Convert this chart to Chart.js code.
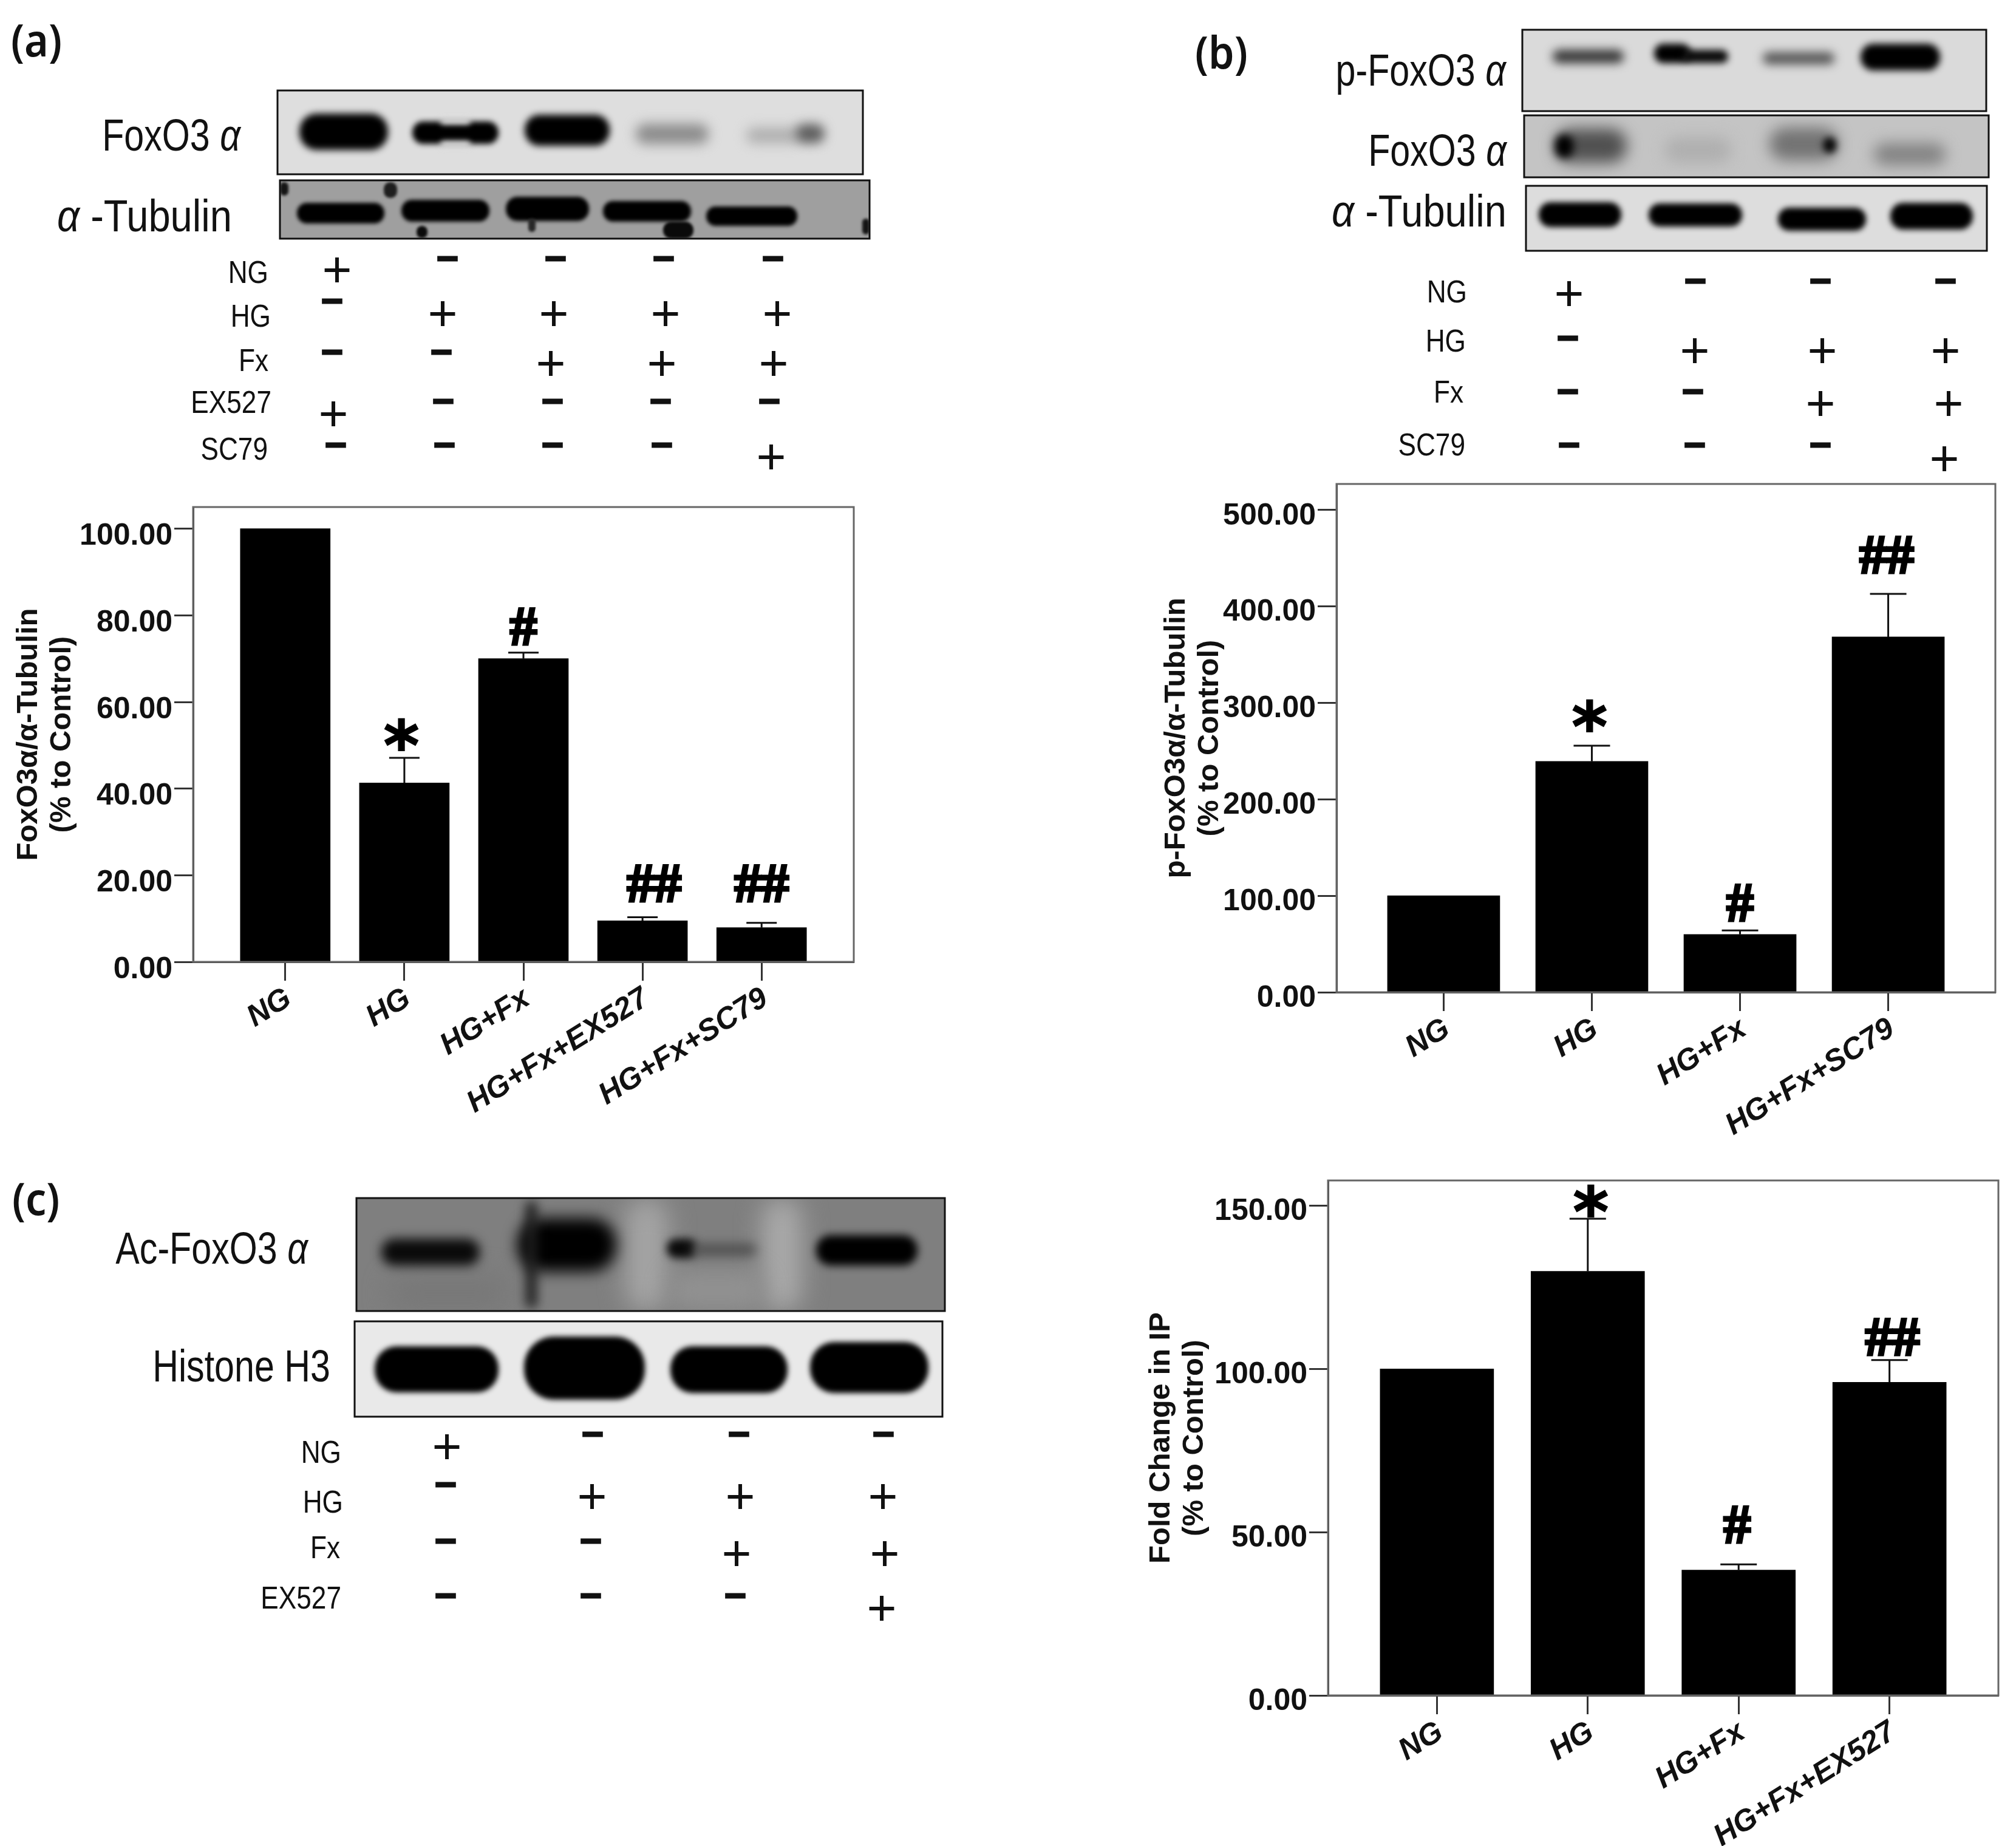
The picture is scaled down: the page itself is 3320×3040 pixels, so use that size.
<!DOCTYPE html>
<html>
<head>
<meta charset="utf-8">
<script src="https://cdn.jsdelivr.net/npm/chart.js@4"></script>
<style>
  html, body { margin: 0; background: #fff; }
  #page { position: relative; width: 3320px; height: 3040px; overflow: hidden; }
  canvas { position: absolute; }
  .t { position: absolute; white-space: nowrap; color: #111; line-height: 1; }
  .blotlabel { font: 74px "Liberation Sans", sans-serif; transform: translate(-100%, -50%) scaleX(.8); transform-origin: right center; }
  .blotwide { font: 74px "Liberation Sans", sans-serif; transform: translate(-100%, -50%) scaleX(.88); transform-origin: right center; }
  .rowlabel { font: 52px "Liberation Sans", sans-serif; transform: translate(-100%, -50%) scaleX(.85); transform-origin: right center; }
  .panel { font: 600 74px "Noto Sans", sans-serif; transform: scaleX(.92); transform-origin: left center; }
  .plus { font: 84px "Liberation Sans", sans-serif; transform: translate(-50%, -50%); }
  .minus { font: bold 62px "Liberation Sans", sans-serif; transform: translate(-50%, -50%); margin-top: -8px; -webkit-text-stroke: 3px #111; }
</style>
</head>
<body>
<div id="page">
  <canvas id="blots" width="3320" height="3040" style="left:0;top:0"></canvas>
</div>
<script>
// panel a
const aLabels = ["NG", "HG", "HG+Fx", "HG+Fx+EX527", "HG+Fx+SC79"];
const aValues = [100, 41.3, 70, 9.5, 7.9];
const aErrTop = [100, 47.1, 71.4, 10.3, 9.0];
const aMarks = ["", "*", "#", "##", "##"];
const aMarkX = [0, 0.975, 2, 3.097, 4];
const aMarkY = [0, 50.5, 76.5, 17.2, 17.2];
const aTicks = [0, 20, 40, 60, 80, 100];

// panel b
const bLabels = ["NG", "HG", "HG+Fx", "HG+Fx+SC79"];
const bValues = [100, 239.4, 60, 368.4];
const bErrTop = [100, 255.7, 64, 413];
const bMarks = ["", "*", "#", "##"];
const bMarkX = [0, 0.985, 2, 2.99];
const bMarkY = [0, 278, 88, 449];
const bTicks = [0, 100, 200, 300, 400, 500];

// panel c
const cLabels = ["NG", "HG", "HG+Fx", "HG+Fx+EX527"];
const cValues = [100, 129.9, 38.4, 95.9];
const cErrTop = [100, 146, 40.1, 102.7];
const cMarks = ["", "*", "#", "##"];
const cMarkX = [0, 1.02, 1.99, 3.02];
const cMarkY = [0, 148.7, 51, 108.5];
const cTicks = [0, 50, 100, 150];

const page = document.getElementById("page");

// error bars, significance marks and the frame round the plot
const extras = {
  id: "extras",
  afterDatasetsDraw(chart, args, opts) {
    const { ctx, scales, chartArea } = chart;
    ctx.save();
    ctx.strokeStyle = "#666";
    ctx.lineWidth = 3;
    ctx.strokeRect(chartArea.left, chartArea.top, chartArea.right - chartArea.left, chartArea.bottom - chartArea.top);
    ctx.strokeStyle = "#111";
    opts.errTop.forEach((top, i) => {
      if (top <= opts.values[i]) return;
      const x = scales.x.getPixelForValue(i);
      const y0 = scales.y.getPixelForValue(opts.values[i]);
      const y1 = scales.y.getPixelForValue(top);
      ctx.beginPath();
      ctx.moveTo(x, y0);
      ctx.lineTo(x, y1);
      ctx.moveTo(x - opts.cap / 2, y1);
      ctx.lineTo(x + opts.cap / 2, y1);
      ctx.stroke();
    });
    ctx.fillStyle = "#000";
    ctx.strokeStyle = "#000";
    ctx.textAlign = "center";
    ctx.textBaseline = "middle";
    opts.marks.forEach((m, i) => {
      if (!m) return;
      const x = scales.x.getPixelForValue(opts.markX[i]);
      const y = scales.y.getPixelForValue(opts.markY[i]);
      if (m === "*") {
        ctx.font = 'bold 112px "DejaVu Sans"';
        ctx.lineWidth = 2;
        ctx.fillText(m, x, y + 14);
        ctx.strokeText(m, x, y + 14);
      } else {
        ctx.font = 'bold 90px "Liberation Serif"';
        ctx.lineWidth = 4;
        ctx.fillText(m, x, y);
        ctx.strokeText(m, x, y);
      }
    });
    ctx.restore();
  },
};

function makeChart(c) {
  const cv = document.createElement("canvas");
  cv.width = c.w;
  cv.height = c.h;
  cv.style.left = c.left + "px";
  cv.style.top = c.top + "px";
  page.appendChild(cv);
  return new Chart(cv, {
    type: "bar",
    data: {
      datasets: [{
        data: c.values.map((v, i) => ({ x: i, y: v })),
        backgroundColor: "#000",
        barThickness: c.barW,
      }],
    },
    plugins: [extras],
    options: {
      responsive: false,
      animation: false,
      devicePixelRatio: 1,
      layout: { padding: { top: c.boxTop - c.top, right: c.left + c.w - c.boxRight, left: 0, bottom: 0 } },
      plugins: {
        legend: { display: false },
        tooltip: { enabled: false },
        extras: { values: c.values, errTop: c.errTop, marks: c.marks, markX: c.markX, markY: c.markY, cap: c.cap },
      },
      scales: {
        x: {
          type: "linear",
          offset: false,
          min: -c.margin,
          max: c.labels.length - 1 + c.margin,
          afterBuildTicks: (s) => { s.ticks = c.labels.map((_, i) => ({ value: i })); },
          afterFit: (s) => { s.height = c.top + c.h - c.boxBottom; },
          grid: { offset: false, drawOnChartArea: false, tickLength: 31, tickColor: "#333", tickWidth: 3 },
          border: { display: true, color: "#333", width: 3 },
          ticks: {
            autoSkip: false,
            minRotation: 32,
            maxRotation: 32,
            padding: 0,
            labelOffset: 6,
            color: "#111",
            font: { family: "Liberation Sans", size: 50, weight: "bold", style: "italic" },
            callback: (v) => c.labels[v],
          },
        },
        y: {
          min: 0,
          max: c.yMax,
          afterBuildTicks: (s) => { s.ticks = c.ticks.map((v) => ({ value: v })); },
          afterFit: (s) => { s.width = c.boxLeft - c.left; },
          grid: { drawOnChartArea: false, tickLength: 31, tickColor: "#333", tickWidth: 3 },
          border: { display: true, color: "#333", width: 3 },
          title: {
            display: true,
            text: c.title,
            color: "#111",
            padding: { top: 0, bottom: 0 },
            font: { family: "Liberation Sans", size: 49, weight: "bold", lineHeight: 1.12 },
          },
          ticks: {
            padding: 3,
            labelOffset: c.labelDy,
            color: "#111",
            font: { family: "Liberation Sans", size: 50, weight: "bold" },
            callback: (v) => v.toFixed(2),
          },
        },
      },
    },
  });
}

makeChart({
  left: 20, top: 790, w: 1400, h: 1060, boxLeft: 318, boxRight: 1406, boxTop: 835, boxBottom: 1584,
  labels: aLabels, values: aValues, errTop: aErrTop, marks: aMarks, markX: aMarkX, markY: aMarkY, ticks: aTicks,
  yMax: 105, margin: 0.774, barW: 148, cap: 50, labelDy: 13,
  title: ["FoxO3α/α-Tubulin", "(% to Control)"],
});
makeChart({
  left: 1910, top: 750, w: 1390, h: 1130, boxLeft: 2201, boxRight: 3286, boxTop: 797, boxBottom: 1634,
  labels: bLabels, values: bValues, errTop: bErrTop, marks: bMarks, markX: bMarkX, markY: bMarkY, ticks: bTicks,
  yMax: 527, margin: 0.723, barW: 185, cap: 60, labelDy: 10,
  title: ["p-FoxO3α/α-Tubulin", "(% to Control)"],
});
makeChart({
  left: 1885, top: 1895, w: 1420, h: 1145, boxLeft: 2187, boxRight: 3291, boxTop: 1944, boxBottom: 2792,
  labels: cLabels, values: cValues, errTop: cErrTop, marks: cMarks, markX: cMarkX, markY: cMarkY, ticks: cTicks,
  yMax: 157.7, margin: 0.722, barW: 187, cap: 60, labelDy: 10,
  title: ["Fold Change in IP", "(% to Control)"],
});

function addText(cls, html, x, y) {
  const d = document.createElement("div");
  d.className = "t " + cls;
  d.innerHTML = html;
  d.style.left = x + "px";
  d.style.top = y + "px";
  page.appendChild(d);
}

addText("panel", "(a)", 18, 14);
addText("panel", "(b)", 1968, 34);
addText("panel", "(c)", 20, 1922);

const alpha = '<i>α</i>';
const blotLabels = [
  ["blotlabel", "FoxO3 " + alpha, 396, 222],
  ["blotwide", alpha + " -Tubulin", 382, 355],
  ["blotlabel", "p-FoxO3 " + alpha, 2480, 115],
  ["blotlabel", "FoxO3 " + alpha, 2481, 247],
  ["blotwide", alpha + " -Tubulin", 2481, 347],
  ["blotlabel", "Ac-FoxO3 " + alpha, 507, 2055],
  ["blotlabel", "Histone H3", 544, 2249],
];
blotLabels.forEach((l) => addText(l[0], l[1], l[2], l[3]));

const rowLabels = [
  ["NG", 442, 448], ["HG", 446, 520], ["Fx", 442, 593], ["EX527", 447, 662], ["SC79", 441, 739],
  ["NG", 2416, 480], ["HG", 2414, 561], ["Fx", 2410, 645], ["SC79", 2413, 732],
  ["NG", 562, 2391], ["HG", 565, 2473], ["Fx", 560, 2548], ["EX527", 562, 2631],
];
rowLabels.forEach((l) => addText("rowlabel", l[0], l[1], l[2]));

const plusSigns = [
  [555, 443], [729, 515], [912, 515], [1096, 515], [1280, 515], [907, 597], [1090, 597], [1274, 597], [549, 680], [1270, 751],
  [2584, 482], [2791, 576], [3001, 576], [3204, 576], [2998, 663], [3209, 663], [3202, 754],
  [736, 2381], [975, 2463], [1219, 2463], [1454, 2463], [1213, 2557], [1457, 2557], [1452, 2647],
];
const minusSigns = [
  [737, 428], [915, 428], [1093, 428], [1273, 428], [547, 498], [547, 582], [727, 582],
  [730, 663], [910, 663], [1088, 663], [1267, 663], [553, 735], [732, 735], [910, 735], [1090, 735],
  [2792, 465], [2998, 465], [3204, 465], [2582, 559], [2582, 647], [2788, 647], [2584, 735], [2791, 735], [2998, 735],
  [976, 2364], [1217, 2364], [1455, 2364], [734, 2447], [734, 2540], [973, 2540], [734, 2630], [973, 2630], [1211, 2630],
];
plusSigns.forEach((p) => addText("plus", "+", p[0], p[1]));
minusSigns.forEach((p) => addText("minus", "–", p[0], p[1]));

// western blot strips: [x, y, w, h, background], then bands [x, y, w, h, grey, blur]
const blotStrips = [
  { box: [457, 149, 964, 138, "#dedede"], bands: [
    [493, 187, 146, 60, 0, 6], [679, 200, 142, 37, 0, 5], [725, 194, 50, 11, 222, 5], [725, 232, 50, 11, 222, 5],
    [864, 189, 140, 51, 0, 6], [1047, 204, 120, 33, 140, 10], [1229, 210, 90, 26, 175, 10], [1310, 204, 48, 32, 95, 9],
  ] },
  { box: [461, 297, 971, 96, "#9f9f9f"], bands: [
    [489, 334, 144, 34, 0, 3], [661, 329, 145, 36, 0, 3], [833, 324, 137, 40, 0, 3], [993, 331, 145, 34, 0, 3], [1163, 340, 150, 32, 0, 3],
    [461, 300, 14, 22, 20, 2], [632, 300, 22, 26, 30, 2], [686, 372, 18, 20, 10, 2], [1092, 365, 50, 28, 10, 2], [1420, 360, 12, 26, 20, 2], [870, 360, 12, 22, 40, 2],
  ] },
  { box: [2507, 49, 764, 134, "#dadada"], bands: [
    [2557, 82, 117, 22, 55, 8], [2724, 72, 60, 32, 0, 6], [2770, 82, 76, 22, 10, 6],
    [2903, 86, 118, 20, 85, 8], [3064, 72, 131, 44, 0, 6],
  ] },
  { box: [2510, 190, 765, 102, "#c4c4c4"], bands: [
    [2561, 212, 118, 56, 80, 12], [2561, 222, 30, 38, 0, 7], [2742, 226, 109, 42, 175, 12],
    [2914, 210, 113, 54, 115, 12], [3002, 226, 22, 26, 10, 6], [3086, 236, 118, 36, 130, 12],
  ] },
  { box: [2513, 306, 759, 107, "#dddddd"], bands: [
    [2534, 333, 136, 41, 0, 5], [2715, 335, 154, 38, 0, 5], [2928, 342, 145, 38, 0, 5], [3113, 334, 136, 44, 0, 5],
  ] },
  { box: [587, 1973, 969, 186, "#7f7f7f"], bands: [
    [1030, 1973, 70, 186, 165, 20], [1255, 1973, 65, 186, 170, 20], [1100, 2090, 160, 69, 145, 18], [640, 2100, 200, 59, 120, 20],
    [628, 2040, 162, 44, 10, 9], [852, 2006, 163, 88, 0, 12], [866, 1978, 18, 176, 30, 9],
    [1098, 2040, 50, 32, 10, 7], [1140, 2048, 105, 20, 80, 9], [1344, 2034, 167, 50, 0, 7],
  ] },
  { box: [584, 2176, 968, 157, "#e9e9e9"], bands: [
    [617, 2217, 204, 76, 0, 4], [863, 2201, 199, 104, 0, 4], [1104, 2217, 193, 77, 0, 4], [1334, 2210, 195, 84, 0, 4],
  ] },
];

const bctx = document.getElementById("blots").getContext("2d");
blotStrips.forEach((s) => {
  const [x, y, w, h, bg] = s.box;
  bctx.save();
  bctx.beginPath();
  bctx.rect(x, y, w, h);
  bctx.clip();
  bctx.fillStyle = bg;
  bctx.fillRect(x, y, w, h);
  s.bands.forEach((b) => {
    bctx.filter = `blur(${b[5]}px)`;
    bctx.fillStyle = `rgb(${b[4]},${b[4]},${b[4]})`;
    bctx.beginPath();
    bctx.roundRect(b[0], b[1], b[2], b[3], Math.min(b[3], b[2]) / 2.1);
    bctx.fill();
  });
  bctx.restore();
  bctx.strokeStyle = "#111";
  bctx.lineWidth = 3;
  bctx.strokeRect(x, y, w, h);
});
</script>
</body>
</html>
